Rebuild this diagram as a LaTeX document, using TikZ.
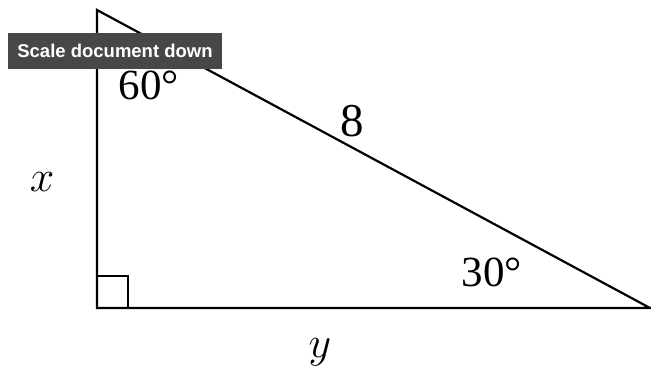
\RequirePackage{fix-cm}
\documentclass[tikz,border=0pt]{standalone}
\usepackage{fontspec}
\setsansfont{Liberation Sans}
\newfontfamily\numfont{Liberation Serif}
\usetikzlibrary{positioning}

\begin{document}
\begin{tikzpicture}[
  x=1pt, y=-1pt,
  side/.style={line width=2.2pt, line cap=round, line join=miter},
  anglbl/.style={font=\numfont\fontsize{43}{43}\selectfont, inner sep=0pt},
  varlbl/.style={font=\fontsize{44}{44}\selectfont, inner sep=0pt},
  banner/.style={rectangle, fill=black!72, text=white, font=\sffamily\bfseries\fontsize{18.5}{18.5}\selectfont,
    minimum width=214pt, minimum height=36pt, inner sep=0pt}
]
\useasboundingbox (0,0) rectangle (651,383);

% corners of the triangle
\coordinate (top) at (97,10);
\coordinate (rgt) at (97,308);
\coordinate (far) at (650,308);

\draw[side] (top) -- (rgt) -- (far) -- cycle;
\draw[line width=2.2pt] (rgt) rectangle ++(31,-32);

\node[anglbl] (a60) at (149,85) {60°};
\node[anglbl, font=\numfont\fontsize{47}{47}\selectfont] (hyp) at (352,121) {8};
\node[anglbl] (a30) at (492,272) {30°};
\node[varlbl] (sx) at (42,182) {$x$};
\node[varlbl] (sy) at (320,352) {$y$};

% overlay bar on top of the drawing
\node[banner] (scale) at (115,51) {Scale document down};
\end{tikzpicture}
\end{document}
